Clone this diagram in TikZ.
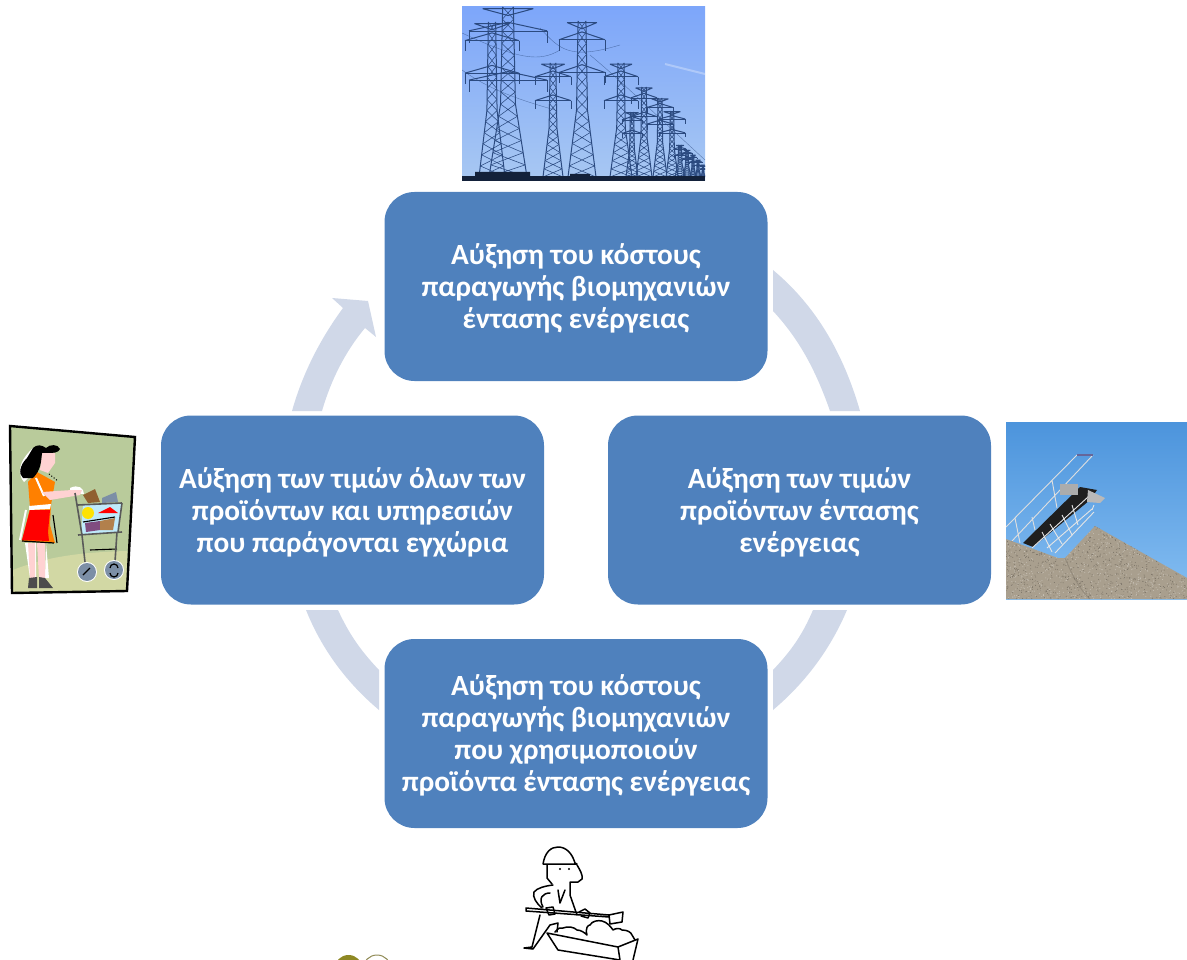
\documentclass[tikz,border=0pt]{standalone}
\usepackage{fontspec}
\setmainfont{Carlito}
\definecolor{boxblue}{HTML}{4F81BD}
\definecolor{arcblue}{HTML}{D0D8E8}
\definecolor{skyA}{HTML}{7DA6FA}
\definecolor{skyB}{HTML}{A8C8F2}
\definecolor{steel}{HTML}{2B4A80}
\definecolor{sageg}{HTML}{B9CB9B}
\definecolor{floorg}{HTML}{D2D8A4}
\definecolor{gravel}{HTML}{A99F8E}
\definecolor{skyC}{HTML}{4C94DC}
\definecolor{skyD}{HTML}{85BEF2}
\definecolor{wheelc}{HTML}{7C8FA6}
\tikzset{
  stepbox/.style={fill=boxblue,draw=none,rounded corners=30pt,minimum width=383pt,minimum height=189pt,text=white,align=center,font=\fontsize{29.3}{32}\selectfont\bfseries,inner sep=0pt},
  arcpart/.style={fill=arcblue,draw=none},
  tw/.style={draw=steel,line width=1pt},
  tn/.style={draw=steel,line width=.55pt},
  ink/.style={draw=black,line width=1.5pt,line join=round,line cap=round}
}
\newcommand{\armA}{.12}
\newcommand{\armB}{.33}
\newcommand{\boxtext}[1]{\raisebox{-2pt}[\height][\depth]{\parbox{383pt}{\centering #1}}}
% x, top y, bottom y, half width of arms, half width of base
\newcommand{\pylon}[5]{%
  \begin{scope}[shift={(#1,#2)}]
    \pgfmathsetmacro{\hh}{#3-#2}
    \pgfmathsetmacro{\aw}{#4}
    \pgfmathsetmacro{\bw}{#5}
    \pgfmathsetmacro{\tw}{#5*.28}
    \foreach \k in {0,1,...,13}{
      \pgfmathsetmacro{\ya}{\k*\hh/14}
      \pgfmathsetmacro{\yb}{(\k+1)*\hh/14}
      \pgfmathsetmacro{\wa}{\k<8 ? \tw*(1+.4*\k/8) : 1.4*\tw+(\bw-1.4*\tw)*(\k-8)/6}
      \pgfmathsetmacro{\wb}{\k<7 ? \tw*(1+.4*(\k+1)/8) : 1.4*\tw+(\bw-1.4*\tw)*(\k-7)/6}
      \draw[tn] (-\wa,\ya) -- (\wb,\yb) (\wa,\ya) -- (-\wb,\yb);
      \draw[tw] (-\wa,\ya) -- (-\wb,\yb) (\wa,\ya) -- (\wb,\yb);
    }
    \draw[tw] (-\aw*.65,.01*\hh) -- (\aw*.65,.01*\hh) (-\aw*.65,.01*\hh) -- (0,.05*\hh) -- (\aw*.65,.01*\hh);
    \draw[tw] (-\aw,\armA*\hh) -- (0,\armA*\hh-.05*\hh) -- (\aw,\armA*\hh);
    \draw[tw] (-\aw,\armB*\hh) -- (0,\armB*\hh-.05*\hh) -- (\aw,\armB*\hh);
    \draw[tn] (-\aw,\armA*\hh) -- (\aw,\armA*\hh) (-\aw,\armB*\hh) -- (\aw,\armB*\hh);
    \draw[tn] (-\aw,\armA*\hh) -- ++(0,.07*\hh) (\aw,\armA*\hh) -- ++(0,.07*\hh) (-\aw,\armB*\hh) -- ++(0,.07*\hh) (\aw,\armB*\hh) -- ++(0,.07*\hh);
  \end{scope}
}
\begin{document}
\begin{tikzpicture}[x=1pt,y=-1pt]
\useasboundingbox (0,0) rectangle (1187,960);
% cycle arcs
\fill[arcpart] (773,270) .. controls (815,305) and (843,352) .. (860,411) -- (830,411) .. controls (815,368) and (798,338) .. (773,311) -- cycle;
\fill[arcpart] (847,610) .. controls (830,650) and (805,683) .. (773,710) -- (773,670) .. controls (790,652) and (802,636) .. (813,610) -- cycle;
\fill[arcpart] (306,610) .. controls (322,650) and (347,683) .. (379,710) -- (379,670) .. controls (362,652) and (350,636) .. (338,610) -- cycle;
\fill[arcpart] (292,411) .. controls (303,372) and (321,338) .. (343,308) -- (332,298) -- (368,301) -- (376,337) -- (365,328) .. controls (345,352) and (331,380) .. (322,411) -- cycle;
% step boxes
\node[stepbox] (top) at (576,286.5) {\boxtext{Αύξηση του κόστους\\παραγωγής βιομηχανιών\\έντασης ενέργειας}};
\node[stepbox] (right) at (799.5,510) {\boxtext{Αύξηση των τιμών\\προϊόντων έντασης\\ενέργειας}};
\node[stepbox] (bottom) at (576,733.5) {\boxtext{Αύξηση του κόστους\\παραγωγής βιομηχανιών\\που χρησιμοποιούν\\προϊόντα έντασης ενέργειας}};
\node[stepbox] (left) at (352.5,510) {\boxtext{Αύξηση των τιμών όλων των\\προϊόντων και υπηρεσιών\\που παράγονται εγχώρια}};
% pylons picture
\begin{scope}
  \clip (462,7) rectangle (705,181);
  \fill[top color=skyA,bottom color=skyB] (462,7) rectangle (705,181);
  \draw[white,opacity=.3,line width=2pt] (665,64) -- (705,74);
  \foreach \x/\t/\w/\b in {703/165/3/2,698/160/4/3,693/155/4/3,687/150/5/4,680/145/6/5}{\pylon{\x}{\t}{177}{\w}{\b}}
  \pylon{672}{111}{177}{13}{6}
  \pylon{660}{98}{177}{13}{7}
  \pylon{632}{112}{177}{10}{6}
  \pylon{644}{87}{177}{13}{8}
  \pylon{621}{63}{177}{17}{11}
  \pylon{553}{63}{177}{18}{10}
  \pylon{582}{21}{177}{23}{14}
  \pylon{492}{22}{177}{27}{13}
  \renewcommand{\armA}{.14}\renewcommand{\armB}{.43}
  \pylon{508}{7}{177}{39}{19}
  \renewcommand{\armA}{.12}\renewcommand{\armB}{.33}
  \draw[steel,opacity=.6,line width=.4pt] (462,33) .. controls (520,60) and (540,62) .. (560,50) (540,28) .. controls (560,50) and (570,60) .. (620,45) (462,70) .. controls (490,90) and (520,100) .. (555,110) (590,55) .. controls (620,80) and (640,100) .. (705,160);
  \fill[steel!45!black] (462,176) rectangle (705,181);
  \fill[steel!45!black] (475,172) rectangle (530,177) (570,174) rectangle (590,177);
\end{scope}
% gravel picture
\begin{scope}
  \clip (1006,422) rectangle (1187,599);
  \fill[top color=skyC,bottom color=skyD] (1006,422) rectangle (1187,599);
  \draw[gray!25,line width=.9pt] (1006,527) -- (1077,455) (1012,541) -- (1093,455) (1052,480) -- (1057,508) (1015,518) -- (1020,543) (1032,517) -- (1035,530);
  \draw[gray!80!blue,line width=1.6pt] (1077,455) -- (1093,455);
  \fill[black!88] (1023,543) -- (1080,487) -- (1097,490) -- (1090,500) -- (1033,547) -- cycle;
  \draw[gray!20,line width=.9pt] (1032,548) -- (1088,497) (1047,548) -- (1092,509) (1055,553) -- (1094,512) (1042,532) -- (1052,552) (1050,524) -- (1062,544) (1062,515) -- (1072,535) (1072,505) -- (1078,525) (1094,505) -- (1092,510);
  \fill[gray!55] (1088,490) -- (1105,498) -- (1100,503) -- (1087,502) -- cycle;
  \fill[gray!65] (1060,484) rectangle (1078,495);
  \fill[gravel] (1006,539) -- (1058,558) -- (1065,558) -- (1095,526) -- (1187,578) -- (1187,599) -- (1006,599) -- cycle;
  \begin{scope}
    \clip (1006,539) -- (1058,558) -- (1065,558) -- (1095,526) -- (1187,578) -- (1187,599) -- (1006,599) -- cycle;
    \pgfmathsetseed{42}
    \foreach \i in {1,...,900}{
      \pgfmathsetmacro{\px}{1006+181*rnd}
      \pgfmathsetmacro{\py}{526+73*rnd}
      \fill[gravel!72!black] (\px,\py) circle[radius=.5pt];
      \pgfmathsetmacro{\qx}{1006+181*rnd}
      \pgfmathsetmacro{\qy}{526+73*rnd}
      \fill[gravel!65!white] (\qx,\qy) circle[radius=.5pt];
    }
    \draw[gravel!70!black,opacity=.4,line width=1pt] (1065,558) .. controls (1072,575) and (1080,590) .. (1090,599);
  \end{scope}
\end{scope}
% shopper clip art
\fill[sageg] (10,426) -- (135,437) -- (127,591) -- (12,593) -- cycle;
\fill[floorg] (13,570) .. controls (50,555) and (90,552) .. (127,551) -- (127,591) -- (13,593) -- cycle;
\draw[black,line width=2.4pt] (10,426) -- (135,437) -- (127,591) -- (12,593) -- cycle;
% legs and shoes
\fill[white] (25,543) -- (30,578) -- (36,578) -- (36,543) -- cycle (46,543) -- (49,578) -- (45,578) -- cycle;
\fill[pink!70!white] (28,543) -- (35,543) -- (35,578) -- (30,578) -- cycle (37,543) -- (45,543) -- (45,578) -- (39,578) -- cycle;
\fill[gray!60!black] (29,578) -- (37,577) -- (37,588) -- (28,588) -- cycle (39,577) -- (45,578) -- (53,588) -- (39,588) -- cycle;
% dress
\fill[orange] (28,482) -- (37,472) -- (55,482) -- (51,505) -- (50,525) -- (55,543) -- (22,541) -- (30,508) -- cycle;
\fill[red] (30,510) -- (50,510) -- (48,532) -- (49,541) -- (22,540) -- cycle;
\fill[white] (29,506) -- (51,504) -- (50,509) -- (29,510) -- cycle;
\draw[black,line width=1.2pt] (22,541) -- (54,543) (53,515) -- (57,543);
\draw[white,line width=2pt] (36,478) -- (44,496) (26,510) -- (20,540);
% arm
\fill[white] (70,488) .. controls (78,484) and (84,488) .. (84,494) -- (70,493) -- cycle;
\fill[pink!70!white] (42,492) -- (72,490) -- (82,490) -- (80,495) -- (50,500) -- cycle;
\draw[black,line width=1pt,dotted] (49,474) -- (58,481);
% hair and face
\fill[white] (24,482) .. controls (14,470) and (24,456) .. (33,448) -- (36,470) -- cycle;
\fill[pink!70!white] (42,453) -- (55,453) -- (55,463) -- (48,473) -- (40,470) -- cycle;
\fill[black] (33,448) .. controls (37,444) and (42,445) .. (46,448) .. controls (50,444) and (58,444) .. (60,449) .. controls (58,453) and (55,453) .. (42,453) .. controls (41,462) and (41,470) .. (33,478) -- (23,478) .. controls (18,474) and (20,465) .. (27,458) -- cycle;
% cart
\fill[cyan!25!white] (83,505) -- (122,503) -- (118,532) -- (81,535) -- cycle;
\fill[brown!75!black] (83,495) -- (95,489) -- (100,502) -- (88,503) -- cycle;
\fill[wheelc] (102,498) -- (116,492) -- (118,502) -- (102,503) -- cycle;
\fill[yellow!85!orange] (88,513) circle[radius=6pt];
\fill[red] (98,513) -- (110,507) -- (118,513) -- cycle;
\fill[violet!40!gray] (85,523) -- (100,521) -- (100,530) -- (86,532) -- cycle;
\fill[orange!40!gray] (100,521) -- (115,518) -- (113,530) -- (100,530) -- cycle;
\draw[black,line width=1.1pt] (83,522) -- (115,517) (90,550) -- (117,549);
\draw[gray!70!black,line width=1.6pt] (75,493) -- (82,535) -- (85,562) (78,535) -- (122,532) (122,503) -- (118,532) (117,532) -- (115,562) (78,505) -- (122,503);
\fill[white] (87,572) circle[radius=10pt] (114,570) circle[radius=10pt];
\fill[wheelc] (87,572) circle[radius=9pt] (114,570) circle[radius=9pt];
\draw[black,line width=1.2pt] (83,575) -- (90,568) (110,568) arc[start angle=180,end angle=0,radius=4pt] (110,573) arc[start angle=180,end angle=360,radius=4pt];
% worker line art
\draw[ink] (543,864) .. controls (545,852) and (551,847) .. (558,847) .. controls (566,847) and (572,853) .. (575,863) -- (577,864) -- (543,864);
\draw[ink] (547,865) -- (547,878) -- (552,884);
\draw[ink] (577,865) .. controls (580,870) and (583,875) .. (582,879) -- (578,882) -- (570,882) -- (570,895) -- (577,915);
\fill (560,869) circle[radius=1.1pt] (569,869) circle[radius=1.1pt];
\draw[ink] (553,885) .. controls (545,886) and (537,888) .. (534,892) .. controls (532,897) and (537,904) .. (542,908);
\draw[ink] (550,893) .. controls (543,893) and (538,898) .. (543,907);
\draw[ink] (558,890) -- (560,903) -- (565,890);
\draw[ink] (526,908) -- (526,911) -- (609,917) -- (609,915) -- cycle;
\draw[ink] (546,908) -- (553,907) -- (555,914) -- (549,915) -- cycle (579,912) -- (585,909) -- (590,913) -- (588,918) -- (581,916);
\draw[ink] (609,915) -- (623,912) -- (622,922) -- (610,924) -- cycle;
\draw[ink] (540,915) -- (535,935) -- (532,947) -- (524,948) -- (533,949) -- (550,925) -- (558,923) -- (557,932);
\draw[ink] (555,932) .. controls (558,928) and (561,927) .. (563,928) .. controls (568,926) and (574,927) .. (577,930) .. controls (581,930) and (585,933) .. (587,935) .. controls (585,928) and (588,925) .. (590,925) .. controls (592,921) and (598,920) .. (602,921) .. controls (607,922) and (611,927) .. (613,930) .. controls (616,928) and (620,928) .. (622,930) .. controls (627,930) and (631,932) .. (632,935) -- (635,940);
\draw[ink] (547,933) -- (618,947) -- (638,939) -- (633,960) (547,933) -- (558,950) -- (620,960) (618,947) -- (620,960);
% logo fragment
\begin{scope}
  \clip (320,940) rectangle (400,960);
  \fill[olive!75!gray] (348.5,969) circle[radius=14pt];
  \draw[olive!40!gray,line width=1pt] (377,969) circle[radius=14pt];
\end{scope}
\end{tikzpicture}
\end{document}
